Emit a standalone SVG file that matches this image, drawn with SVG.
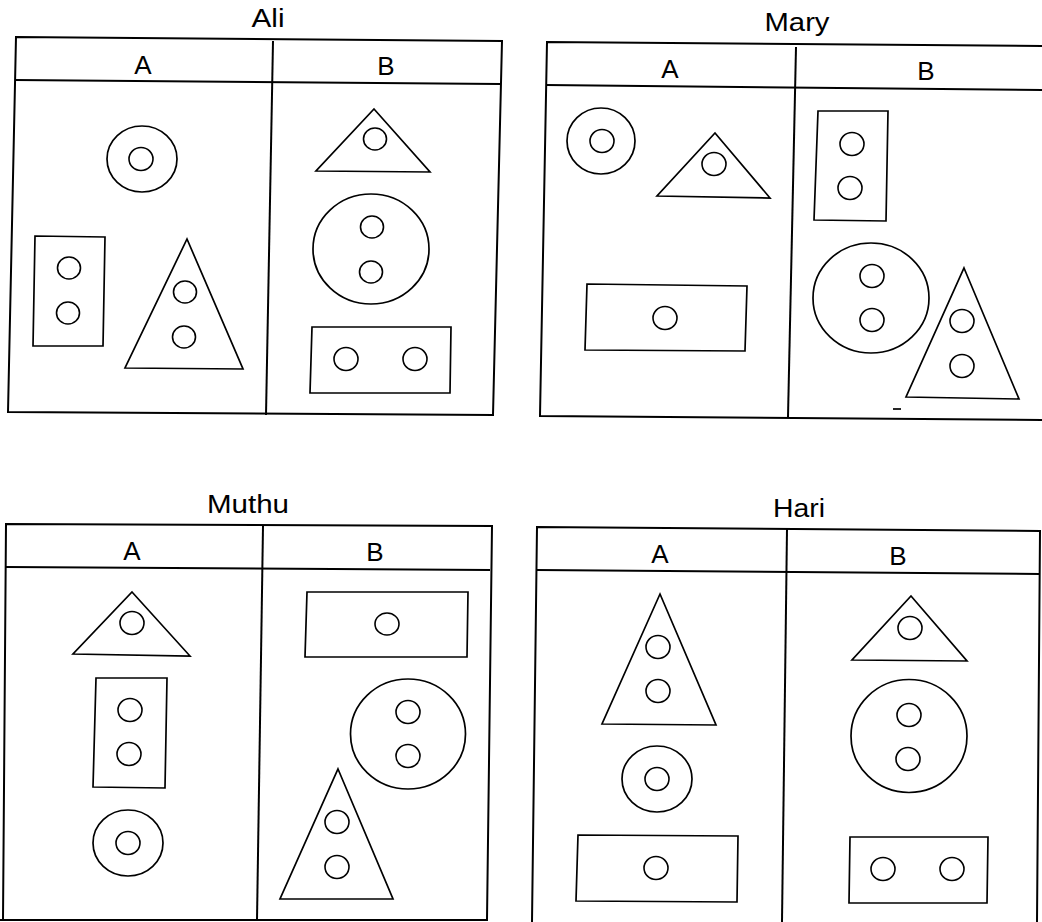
<svg xmlns="http://www.w3.org/2000/svg" width="1042" height="922" viewBox="0 0 1042 922">
<style>
.frame{fill:none;stroke:#000;stroke-width:2;stroke-linejoin:miter}
.shape{fill:none;stroke:#000;stroke-width:1.7;stroke-linejoin:miter}
.hole{fill:none;stroke:#000;stroke-width:1.6}
.title{font-family:"Liberation Sans",Arial,sans-serif;font-size:25px;fill:#000;text-anchor:middle}
.hdr{font-family:"Liberation Sans",Arial,sans-serif;font-size:26px;fill:#000;text-anchor:middle}
</style>
<rect x="0" y="0" width="1042" height="922" fill="#fff"/>

<!-- Ali -->
<g id="panel-ali">
  <text class="title" x="268" y="27" textLength="33" lengthAdjust="spacingAndGlyphs">Ali</text>
  <polygon class="frame" points="16,37 502,41 493,415 8,412"/>
  <line class="frame" x1="15" y1="80" x2="500" y2="84"/>
  <line class="frame" x1="273" y1="41" x2="266" y2="415"/>
  <text class="hdr" x="143" y="74">A</text>
  <text class="hdr" x="386" y="75">B</text>
  <g id="ali-a-donut"><ellipse class="shape" cx="142" cy="159" rx="35" ry="33"/><ellipse class="hole" cx="141" cy="159" rx="12" ry="11.5"/></g>
  <g id="ali-a-rect"><polygon class="shape" points="35,236 105,237 103,346 33,346"/><ellipse class="hole" cx="69" cy="268" rx="11.5" ry="11"/><ellipse class="hole" cx="68" cy="313" rx="11.5" ry="11"/></g>
  <g id="ali-a-tri"><polygon class="shape" points="187,239 243,369 125,368"/><ellipse class="hole" cx="185" cy="292" rx="11.5" ry="11"/><ellipse class="hole" cx="184" cy="337" rx="11.5" ry="11"/></g>
  <g id="ali-b-tri"><polygon class="shape" points="374,109 430,172 316,171"/><ellipse class="hole" cx="375" cy="139" rx="11.5" ry="11"/></g>
  <g id="ali-b-circle"><ellipse class="shape" cx="371" cy="249" rx="58" ry="55"/><ellipse class="hole" cx="372" cy="227" rx="11.5" ry="11"/><ellipse class="hole" cx="371" cy="272" rx="11.5" ry="11"/></g>
  <g id="ali-b-rect"><polygon class="shape" points="312,327 451,327 450,393 310,393"/><ellipse class="hole" cx="346" cy="359" rx="12" ry="11.5"/><ellipse class="hole" cx="415" cy="359" rx="12" ry="11.5"/></g>
</g>

<!-- Mary -->
<g id="panel-mary">
  <text class="title" x="797" y="31" textLength="65" lengthAdjust="spacingAndGlyphs">Mary</text>
  <polyline class="frame" points="1042,46 547,42 540,416 1042,420"/>
  <line class="frame" x1="546" y1="85" x2="1042" y2="90"/>
  <line class="frame" x1="796" y1="47" x2="788" y2="417"/>
  <text class="hdr" x="670" y="78">A</text>
  <text class="hdr" x="926" y="80">B</text>
  <g id="mary-a-donut"><ellipse class="shape" cx="601" cy="141" rx="34" ry="33"/><ellipse class="hole" cx="602" cy="141" rx="12" ry="11.5"/></g>
  <g id="mary-a-tri"><polygon class="shape" points="715,133 770,198 657,196"/><ellipse class="hole" cx="714" cy="164" rx="12" ry="11.5"/></g>
  <g id="mary-a-rect"><polygon class="shape" points="587,284 747,286 745,351 585,350"/><ellipse class="hole" cx="665" cy="318" rx="12" ry="11.5"/></g>
  <g id="mary-b-rect"><polygon class="shape" points="818,111 888,111 886,221 814,220"/><ellipse class="hole" cx="852" cy="144" rx="12" ry="11.5"/><ellipse class="hole" cx="850" cy="188" rx="12" ry="11.5"/></g>
  <g id="mary-b-circle"><ellipse class="shape" cx="871" cy="298" rx="58" ry="55"/><ellipse class="hole" cx="872" cy="276" rx="12" ry="11.5"/><ellipse class="hole" cx="872" cy="320" rx="12" ry="11.5"/></g>
  <g id="mary-b-tri"><polygon class="shape" points="964,268 1019,399 906,397"/><ellipse class="hole" cx="962" cy="321" rx="12" ry="11.5"/><ellipse class="hole" cx="962" cy="366" rx="12" ry="11.5"/></g>
  <line class="shape" x1="893" y1="409" x2="901" y2="409"/>
</g>

<!-- Muthu -->
<g id="panel-muthu">
  <text class="title" x="248" y="513" textLength="82" lengthAdjust="spacingAndGlyphs">Muthu</text>
  <polyline class="frame" points="3,920 6,524 492,526 487,920 0,920"/>
  <line class="frame" x1="6" y1="567" x2="490" y2="570"/>
  <line class="frame" x1="263" y1="526" x2="257" y2="920"/>
  <text class="hdr" x="132" y="560">A</text>
  <text class="hdr" x="375" y="561">B</text>
  <g id="muthu-a-tri"><polygon class="shape" points="132,592 190,656 73,654"/><ellipse class="hole" cx="132" cy="623" rx="12" ry="11.5"/></g>
  <g id="muthu-a-rect"><polygon class="shape" points="96,678 167,678 165,788 93,787"/><ellipse class="hole" cx="130" cy="710" rx="12" ry="11.5"/><ellipse class="hole" cx="129" cy="754" rx="12" ry="11.5"/></g>
  <g id="muthu-a-donut"><ellipse class="shape" cx="128" cy="843" rx="35" ry="33"/><ellipse class="hole" cx="128" cy="843" rx="12" ry="11.5"/></g>
  <g id="muthu-b-rect"><polygon class="shape" points="307,592 468,592 467,657 305,657"/><ellipse class="hole" cx="387" cy="624" rx="12" ry="11"/></g>
  <g id="muthu-b-circle"><ellipse class="shape" cx="408" cy="734" rx="57.5" ry="55"/><ellipse class="hole" cx="408" cy="712" rx="12" ry="11.5"/><ellipse class="hole" cx="408" cy="756" rx="12" ry="11.5"/></g>
  <g id="muthu-b-tri"><polygon class="shape" points="338,769 393,899 280,899"/><ellipse class="hole" cx="337" cy="822" rx="12" ry="11.5"/><ellipse class="hole" cx="337" cy="867" rx="12" ry="11.5"/></g>
</g>

<!-- Hari -->
<g id="panel-hari">
  <text class="title" x="799" y="517" textLength="52" lengthAdjust="spacingAndGlyphs">Hari</text>
  <polyline class="frame" points="532,922 537,527 1040,531 1037,922"/>
  <line class="frame" x1="537" y1="570" x2="1040" y2="574"/>
  <line class="frame" x1="787" y1="529" x2="782" y2="922"/>
  <text class="hdr" x="660" y="563">A</text>
  <text class="hdr" x="898" y="565">B</text>
  <g id="hari-a-tri"><polygon class="shape" points="660,594 716,725 602,724"/><ellipse class="hole" cx="658" cy="647" rx="12" ry="11.5"/><ellipse class="hole" cx="658" cy="691" rx="12" ry="11.5"/></g>
  <g id="hari-a-donut"><ellipse class="shape" cx="657" cy="779" rx="35" ry="33"/><ellipse class="hole" cx="657" cy="779" rx="12" ry="11.5"/></g>
  <g id="hari-a-rect"><polygon class="shape" points="578,835 738,836 737,902 576,901"/><ellipse class="hole" cx="656" cy="868" rx="12" ry="11.5"/></g>
  <g id="hari-b-tri"><polygon class="shape" points="911,596 967,661 852,660"/><ellipse class="hole" cx="910" cy="628" rx="12" ry="11.5"/></g>
  <g id="hari-b-circle"><ellipse class="shape" cx="909" cy="736" rx="58" ry="56.5"/><ellipse class="hole" cx="909" cy="715" rx="12" ry="11.5"/><ellipse class="hole" cx="908" cy="759" rx="12" ry="11.5"/></g>
  <g id="hari-b-rect"><polygon class="shape" points="850,837 988,837 987,903 849,903"/><ellipse class="hole" cx="883" cy="869" rx="12" ry="11.5"/><ellipse class="hole" cx="952" cy="869" rx="12" ry="11.5"/></g>
</g>
</svg>
